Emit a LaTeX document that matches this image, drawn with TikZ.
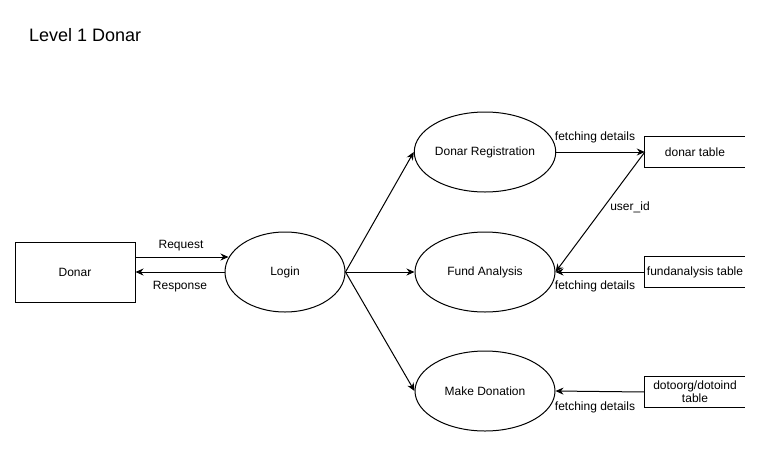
\documentclass[tikz,border=0pt]{standalone}
\usepackage{fontspec}
\setmainfont{Liberation Sans}
\usetikzlibrary{shapes.geometric,arrows.meta}
\begin{document}
\begin{tikzpicture}[x=1pt,y=-1pt,
  every node/.style={font=\fontsize{12}{14}\selectfont, inner sep=0pt},
  proc/.style={ellipse, draw, line width=1pt, minimum width=140pt, minimum height=80pt},
  ent/.style={rectangle, draw, line width=1pt, minimum width=120pt, minimum height=60pt},
  store/.style={rectangle, minimum width=100pt, minimum height=30pt, align=center},
  flow/.style={line width=1pt, -{Stealth[length=8pt,width=7pt]}},
  lbl/.style={font=\fontsize{12}{14}\selectfont}]
\useasboundingbox (0,0) rectangle (761,448);
\node[anchor=west, font=\fontsize{18}{21}\selectfont] (title) at (29,35) {Level 1 Donar};
\node[ent] (donar) at (75,272) {Donar};
\node[proc, minimum width=120pt] (login) at (285,272) {Login};
\node[proc] (reg) at (485,152) {Donar Registration};
\node[proc] (fund) at (485,272) {Fund Analysis};
\node[proc] (make) at (485,391) {Make Donation};
% data stores
\node[store] (dt) at (695,152) {donar table};
\node[store] (ft) at (695,272) {fundanalysis table};
\node[store, font=\fontsize{12}{13}\selectfont] (ot) at (695,392) {dotoorg/dotoind\\table};
\foreach \s in {dt,ft,ot}{
  \draw[line width=1pt] ([xshift=100pt]\s.north west) -- (\s.north west) -- (\s.south west) -- ([xshift=100pt]\s.south west);
}
% flows
\draw[flow] ([yshift=15pt]donar.east) -- ([yshift=15pt,xshift=4pt]login.west);
\node[lbl] (lrq) at (181,246) {Request};
\draw[flow] (login.west) -- (donar.east);
\node[lbl] (lrs) at (180,287) {Response};
\draw[flow] (login.east) -- (reg.west);
\draw[flow] (login.east) -- (fund.west);
\draw[flow] (login.east) -- (make.west);
\draw[flow] (reg.east) -- (dt.west);
\node[lbl] (l1) at (595,137) {fetching details};
\draw[flow] (dt.west) -- (fund.east);
\node[lbl] (l2) at (630,207) {user\_id};
\draw[flow] (ft.west) -- (fund.east);
\node[lbl] (l3) at (595,286) {fetching details};
\draw[flow] (ot.west) -- (make.east);
\node[lbl] (l4) at (595,407) {fetching details};
\end{tikzpicture}
\end{document}
